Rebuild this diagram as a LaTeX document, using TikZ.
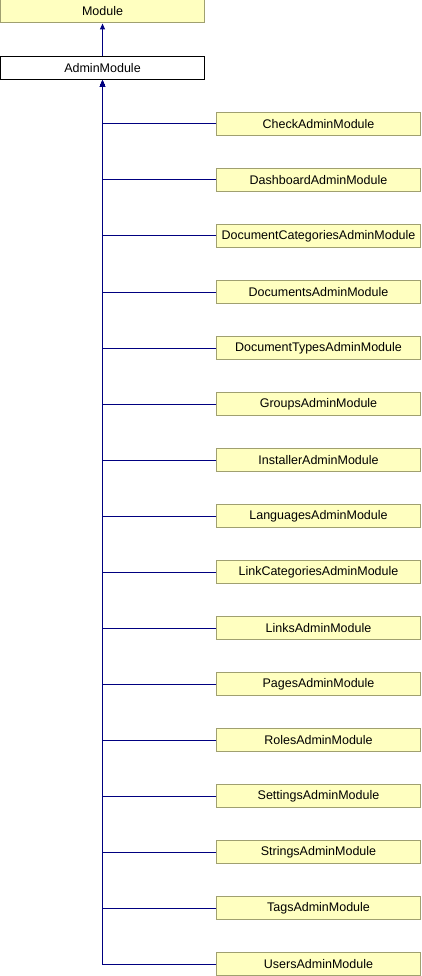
\documentclass[tikz,border=0pt]{standalone}
\usepackage{fontspec}
\setmainfont{Liberation Sans}
\usetikzlibrary{arrows.meta}
\definecolor{boxfill}{RGB}{255,255,192}
\definecolor{boxline}{RGB}{160,160,112}
\definecolor{edgeblue}{RGB}{0,0,128}
\tikzset{
  cls/.style={rectangle, draw=boxline, fill=boxfill, line width=1pt,
    minimum width=204pt, minimum height=23pt, inner sep=0pt,
    font=\fontsize{12.5pt}{14pt}\selectfont, text=black},
  base/.style={cls, draw=black, fill=white},
  inherit/.style={draw=edgeblue, line width=1pt,
    -{Triangle[length=6pt,width=5pt]}},
}
\begin{document}
\begin{tikzpicture}[x=1pt,y=1pt]
  \useasboundingbox (0,0) rectangle (422,-976);
  \node[cls] (module) at (102.5,-11.5) {Module};
  \node[base] (admin) at (102.5,-68.5) {AdminModule};
  \draw[inherit] (admin.north) -- (module.south);
  \foreach \name [count=\i from 0] in {CheckAdminModule,DashboardAdminModule,
      DocumentCategoriesAdminModule,DocumentsAdminModule,
      DocumentTypesAdminModule,GroupsAdminModule,InstallerAdminModule,
      LanguagesAdminModule,LinkCategoriesAdminModule,LinksAdminModule,
      PagesAdminModule,RolesAdminModule,SettingsAdminModule,
      StringsAdminModule,TagsAdminModule,UsersAdminModule} {
    \node[cls] (\name) at (318.5,{-124-56*\i}) {\name};
    \draw[inherit] (\name.west) -| (admin.south);
  }
\end{tikzpicture}
\end{document}
